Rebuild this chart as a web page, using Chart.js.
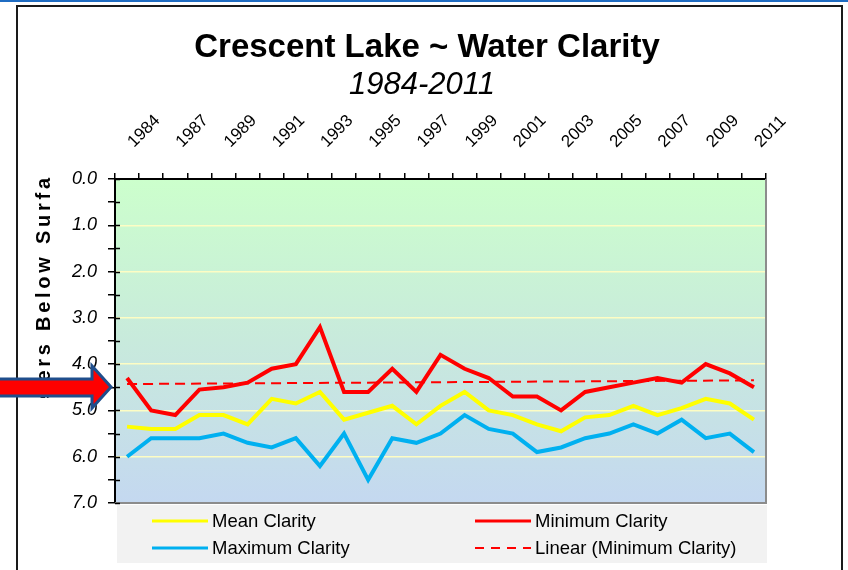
<!DOCTYPE html>
<html lang="en">
<head>
    <meta charset="UTF-8">
    <title>Crescent Lake ~ Water Clarity</title>
    <style>
        body { margin: 0; padding: 0; background: #fff; }
        #wrap { width: 848px; height: 570px; position: relative; }
    </style>
</head>
<body>
    <div id="wrap"><canvas id="clarityChart"></canvas></div>

    <script src="https://cdn.jsdelivr.net/npm/chart.js"></script>
    <script>
        // years on the top axis (one year missing between 1984 and 1987)
        const years = ['1984', '1986', '1987', '1988', '1989', '1990', '1991', '1992', '1993',
            '1994', '1995', '1996', '1997', '1998', '1999', '2000', '2001', '2002', '2003',
            '2004', '2005', '2006', '2007', '2008', '2009', '2010', '2011'];

        // meters below surface
        const meanClarity = [5.35, 5.4, 5.4, 5.1, 5.1, 5.3, 4.75, 4.85, 4.6, 5.2, 5.05, 4.9, 5.3, 4.9,
            4.6, 5.0, 5.1, 5.3, 5.45, 5.15, 5.1, 4.9, 5.1, 4.95, 4.75, 4.85, 5.2];
        const minClarity = [4.3, 5.0, 5.1, 4.55, 4.5, 4.4, 4.1, 4.0, 3.2, 4.6, 4.6, 4.1, 4.6, 3.8,
            4.1, 4.3, 4.7, 4.7, 5.0, 4.6, 4.5, 4.4, 4.3, 4.4, 4.0, 4.2, 4.5];
        const maxClarity = [6.0, 5.6, 5.6, 5.6, 5.5, 5.7, 5.8, 5.6, 6.2, 5.5, 6.5, 5.6, 5.7, 5.5,
            5.1, 5.4, 5.5, 5.9, 5.8, 5.6, 5.5, 5.3, 5.5, 5.2, 5.6, 5.5, 5.9];

        // trend line of the minimum, read at both ends
        const trendEnds = [4.43, 4.35];
        const yTicks = [0, 1, 2, 3, 4, 5, 6, 7];

        const trendMin = years.map(function (y, i) {
            if (i === 0) return trendEnds[0];
            if (i === years.length - 1) return trendEnds[1];
            return null;
        });

        const font = 'Arial, "Liberation Sans", sans-serif';

        // background, frame, title, axis title, arrow and legend
        const decor = {
            id: 'decor',
            beforeDraw(chart) {
                const ctx = chart.ctx;
                const a = chart.chartArea;
                ctx.save();
                ctx.fillStyle = '#fff';
                ctx.fillRect(0, 0, chart.width, chart.height);
                // blue line at the very top
                ctx.fillStyle = '#1f6cc2';
                ctx.fillRect(0, 0, chart.width, 2);
                // black frame
                ctx.strokeStyle = '#1a1a1a';
                ctx.lineWidth = 2;
                ctx.beginPath();
                ctx.moveTo(17, 572);
                ctx.lineTo(17, 6);
                ctx.lineTo(842, 6);
                ctx.lineTo(842, 572);
                ctx.stroke();
                // plot background gradient
                const g = ctx.createLinearGradient(0, a.top, 0, a.bottom);
                g.addColorStop(0, '#ccffcc');
                g.addColorStop(0.5, '#c8eadc');
                g.addColorStop(1, '#c4d8f0');
                ctx.fillStyle = g;
                ctx.fillRect(a.left, a.top, a.right - a.left, a.bottom - a.top);
                // legend box
                ctx.fillStyle = '#f2f2f2';
                ctx.fillRect(117, 505, 650, 58);
                ctx.restore();
            },
            beforeDatasetsDraw(chart) {
                const ctx = chart.ctx;
                const a = chart.chartArea;
                ctx.save();
                ctx.strokeStyle = '#8c8c8c';
                ctx.lineWidth = 2;
                ctx.beginPath();
                ctx.moveTo(a.left, a.bottom);
                ctx.lineTo(a.right, a.bottom);
                ctx.lineTo(a.right, a.top);
                ctx.stroke();
                // y ticks cross the axis a little
                const ys = chart.scales.y;
                ctx.strokeStyle = '#000';
                ctx.lineWidth = 1.5;
                ys.ticks.forEach(function (t) {
                    const py = Math.round(ys.getPixelForValue(t.value)) + 0.5;
                    ctx.beginPath();
                    ctx.moveTo(a.left, py);
                    ctx.lineTo(a.left + 5, py);
                    ctx.stroke();
                });
                ctx.restore();
            },
            afterDraw(chart) {
                const ctx = chart.ctx;
                ctx.save();
                ctx.fillStyle = '#000';
                ctx.textAlign = 'center';
                ctx.textBaseline = 'alphabetic';
                ctx.font = 'bold 33px ' + font;
                ctx.fillText('Crescent Lake ~ Water Clarity', 427, 57);
                ctx.font = 'italic 31px ' + font;
                ctx.fillText('1984-2011', 422, 94);

                // top axis labels, every other year, rising to the right
                const xs = chart.scales.x;
                ctx.font = '17px ' + font;
                ctx.textAlign = 'left';
                years.forEach(function (yr, i) {
                    if (i % 2 !== 0) return;
                    ctx.save();
                    ctx.translate(xs.getPixelForValue(i) + 7, 148);
                    ctx.rotate(-Math.PI / 4);
                    ctx.fillText(yr, 0, 0);
                    ctx.restore();
                });

                // y axis title, clipped like the original
                ctx.save();
                ctx.beginPath();
                ctx.rect(20, 177, 60, 221);
                ctx.clip();
                ctx.font = 'bold 20px ' + font;
                const title = 'Meters Below Surface';
                const seen = 'ters Below Surfa';
                const sp = (214 - ctx.measureText(seen).width) / 15;
                const pre = ctx.measureText('Me').width + 2 * sp;
                ctx.translate(44, 392 + pre);
                ctx.rotate(-Math.PI / 2);
                ctx.textAlign = 'left';
                ctx.textBaseline = 'middle';
                let px = 0;
                for (const ch of title) {
                    ctx.fillText(ch, px, 0);
                    px += ctx.measureText(ch).width + sp;
                }
                ctx.restore();

                // red arrow pointing at the axis
                ctx.beginPath();
                ctx.moveTo(-5, 379);
                ctx.lineTo(92, 379);
                ctx.lineTo(92, 366);
                ctx.lineTo(111, 387);
                ctx.lineTo(92, 408);
                ctx.lineTo(92, 396);
                ctx.lineTo(-5, 396);
                ctx.closePath();
                ctx.fillStyle = '#ff0000';
                ctx.fill();
                ctx.strokeStyle = '#1f4e8c';
                ctx.lineWidth = 3;
                ctx.lineJoin = 'miter';
                ctx.stroke();

                // legend, two columns
                const spots = [[152, 521], [475, 521], [152, 548], [475, 548]];
                ctx.font = '18.5px ' + font;
                ctx.textAlign = 'left';
                ctx.textBaseline = 'middle';
                chart.data.datasets.forEach(function (ds, k) {
                    const p = spots[k];
                    ctx.beginPath();
                    ctx.strokeStyle = ds.borderColor;
                    ctx.lineWidth = ds.borderDash ? 2 : 3;
                    ctx.setLineDash(ds.borderDash ? [9, 7] : []);
                    ctx.moveTo(p[0], p[1]);
                    ctx.lineTo(p[0] + 56, p[1]);
                    ctx.stroke();
                    ctx.setLineDash([]);
                    ctx.fillStyle = '#000';
                    ctx.fillText(ds.label, p[0] + 60, p[1] + 1);
                });
                ctx.restore();
            }
        };

        new Chart(document.getElementById('clarityChart'), {
            type: 'line',
            data: {
                labels: years,
                datasets: [
                    {
                        label: 'Mean Clarity',
                        data: meanClarity,
                        borderColor: '#ffff00',
                        borderWidth: 4,
                        pointRadius: 0,
                        fill: false
                    },
                    {
                        label: 'Minimum Clarity',
                        data: minClarity,
                        borderColor: '#ff0000',
                        borderWidth: 4,
                        pointRadius: 0,
                        fill: false
                    },
                    {
                        label: 'Maximum Clarity',
                        data: maxClarity,
                        borderColor: '#00b0f0',
                        borderWidth: 4,
                        pointRadius: 0,
                        fill: false
                    },
                    {
                        label: 'Linear (Minimum Clarity)',
                        data: trendMin,
                        borderColor: '#ff0000',
                        borderWidth: 2,
                        borderDash: [10, 6],
                        pointRadius: 0,
                        spanGaps: true,
                        fill: false
                    }
                ]
            },
            options: {
                responsive: true,
                maintainAspectRatio: false,
                animation: false,
                events: [],
                layout: { padding: { top: 0, left: 0, right: 82, bottom: 67 } },
                plugins: {
                    legend: { display: false },
                    tooltip: { enabled: false }
                },
                scales: {
                    x: {
                        position: 'top',
                        offset: true,
                        grid: {
                            offset: true,
                            drawOnChartArea: false,
                            tickLength: 6,
                            tickColor: '#000',
                            lineWidth: 1.5
                        },
                        border: { color: '#000', width: 2 },
                        ticks: {
                            autoSkip: false,
                            maxRotation: 0,
                            callback: function () { return ''; }
                        },
                        afterFit: function (s) { s.height = 179; }
                    },
                    y: {
                        reverse: true,
                        min: 0,
                        max: 7,
                        grid: {
                            color: function (c) {
                                const v = c.tick ? c.tick.value : 0;
                                return (yTicks.includes(v) && v > 0 && v < 7) ? '#fdfdc4' : 'rgba(0,0,0,0)';
                            },
                            lineWidth: 1.5,
                            tickColor: '#000',
                            tickWidth: 1.5,
                            tickLength: 7
                        },
                        border: { color: '#000', width: 2 },
                        ticks: {
                            stepSize: 0.5,
                            autoSkip: false,
                            padding: 11,
                            color: '#000',
                            font: { family: font, size: 18, style: 'italic' },
                            callback: function (v) { return yTicks.includes(v) ? v.toFixed(1) : ''; }
                        },
                        afterFit: function (s) { s.width = 115; }
                    }
                }
            },
            plugins: [decor]
        });
    </script>
</body>
</html>
